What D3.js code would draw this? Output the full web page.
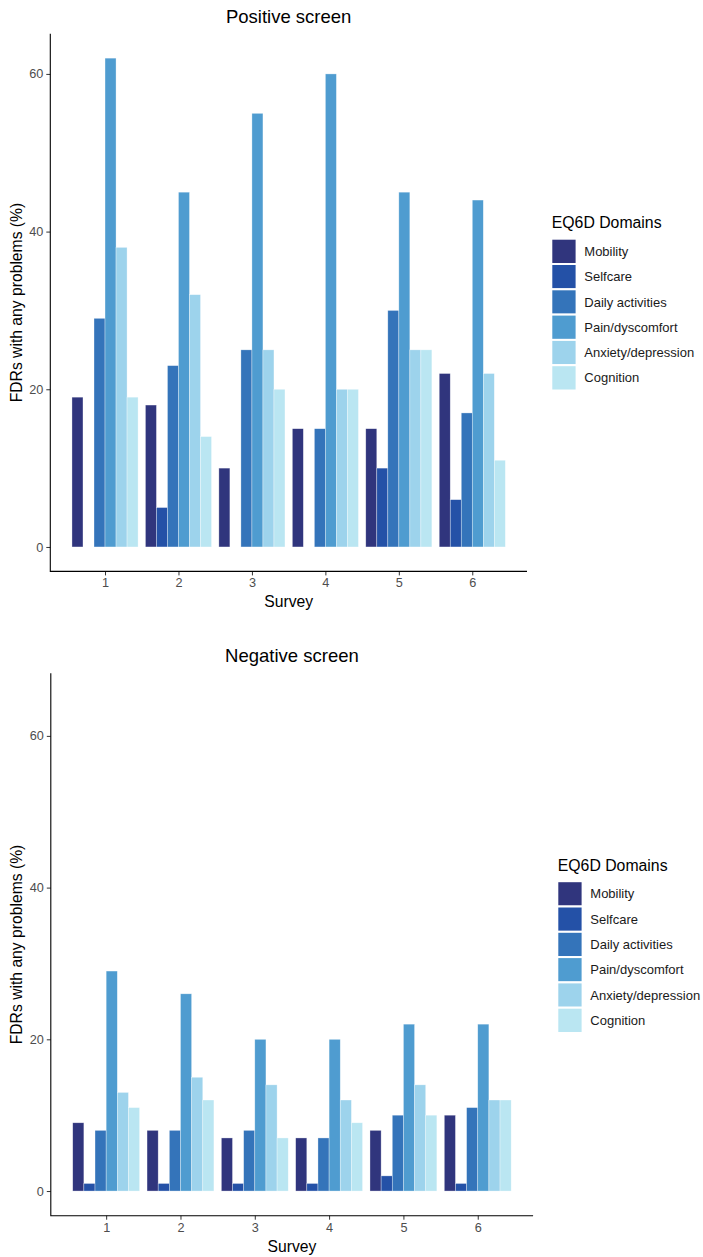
<!DOCTYPE html>
<html>
<head>
<meta charset="utf-8">
<script src="https://cdn.jsdelivr.net/npm/d3@7"></script>
<style>
  html, body { margin: 0; padding: 0; background: #ffffff; }
  svg { display: block; font-family: "Liberation Sans", Arial, Helvetica, sans-serif; }
</style>
</head>
<body>
<svg id="chart" width="703" height="1257"></svg>
<script>
// EQ6D domains and survey waves
const surveys = [1, 2, 3, 4, 5, 6];
const domains = ["Mobility", "Selfcare", "Daily activities", "Pain/dyscomfort", "Anxiety/depression", "Cognition"];
const domainColors = ["#30357D", "#2451A7", "#3474BA", "#4F9CD0", "#9DD3EC", "#BAE6F2"];
const yTicks = [0, 20, 40, 60];

// Positive screen: % of FDRs reporting any problems (null = not reported)
const posMobility   = [19, 18, 10, 15, 15, 22];
const posSelfcare   = [null, 5, null, null, 10, 6];
const posDaily      = [29, 23, 25, 15, 30, 17];
const posPain       = [62, 45, 55, 60, 45, 44];
const posAnxiety    = [38, 32, 25, 20, 25, 22];
const posCognition  = [19, 14, 20, 20, 25, 11];

// Negative screen
const negMobility   = [9, 8, 7, 7, 8, 10];
const negSelfcare   = [1, 1, 1, 1, 2, 1];
const negDaily      = [8, 8, 8, 7, 10, 11];
const negPain       = [29, 26, 20, 20, 22, 22];
const negAnxiety    = [13, 15, 14, 12, 14, 12];
const negCognition  = [11, 12, 7, 9, 10, 12];
const negYLimits    = [0, 65];

const svg = d3.select("#chart");

function drawPanel(opts) {
  const { title, series, yLimits, box, legend } = opts;
  const g = svg.append("g");

  // continuous x: bars span survey ± 0.45, expanded by 5%
  const barSpan = 0.9;
  const lo = d3.min(surveys) - barSpan / 2, hi = d3.max(surveys) + barSpan / 2;
  const xPad = (hi - lo) * 0.05;
  const x = d3.scaleLinear().domain([lo - xPad, hi + xPad]).range([box.left, box.right]);

  const yMax = yLimits ? yLimits[1] : d3.max(series.flat().filter(v => v != null));
  const yMin = yLimits ? yLimits[0] : 0;
  const yPad = (yMax - yMin) * 0.05;
  const y = d3.scaleLinear().domain([yMin - yPad, yMax + yPad]).range([box.bottom, box.top]);

  const barW = barSpan / domains.length;
  const rows = [];
  series.forEach((vals, di) => {
    vals.forEach((v, si) => {
      if (v != null) rows.push({ domain: di, survey: surveys[si], value: v });
    });
  });

  g.append("g").selectAll("rect")
    .data(rows)
    .join("rect")
    .attr("x", d => x(d.survey - barSpan / 2 + d.domain * barW))
    .attr("width", d => x(d.survey - barSpan / 2 + (d.domain + 1) * barW) - x(d.survey - barSpan / 2 + d.domain * barW))
    .attr("y", d => y(d.value))
    .attr("height", d => y(0) - y(d.value))
    .attr("fill", d => domainColors[d.domain])
    .attr("stroke", "#ffffff")
    .attr("stroke-opacity", 0.55)
    .attr("stroke-width", 0.6);

  // y axis
  const yAxis = g.append("g")
    .attr("transform", `translate(${box.left},0)`)
    .call(d3.axisLeft(y).tickValues(yTicks).tickSize(4).tickPadding(3).tickFormat(d3.format("d")));
  yAxis.select(".domain").remove();
  yAxis.selectAll(".tick line").attr("stroke", "#333333").attr("stroke-width", 1);
  yAxis.selectAll(".tick text").attr("fill", "#4D4D4D").attr("font-size", 12.7)
    .attr("font-family", "Liberation Sans, Arial, sans-serif");

  // x axis
  const xAxis = g.append("g")
    .attr("transform", `translate(0,${box.bottom})`)
    .call(d3.axisBottom(x).tickValues(surveys).tickSize(4).tickPadding(3).tickFormat(d3.format("d")));
  xAxis.select(".domain").remove();
  xAxis.selectAll(".tick line").attr("stroke", "#333333").attr("stroke-width", 1);
  xAxis.selectAll(".tick text").attr("fill", "#4D4D4D").attr("font-size", 12.7)
    .attr("font-family", "Liberation Sans, Arial, sans-serif");

  // axis lines
  g.append("path")
    .attr("d", `M${box.left},${box.top}V${box.bottom}H${box.right}`)
    .attr("fill", "none").attr("stroke", "#000000").attr("stroke-width", 1.1);

  // titles
  g.append("text")
    .attr("x", (box.left + box.right) / 2).attr("y", box.titleY)
    .attr("text-anchor", "middle").attr("font-size", 18.5).attr("fill", "#000")
    .text(title);
  g.append("text")
    .attr("x", (box.left + box.right) / 2).attr("y", box.xTitleY)
    .attr("text-anchor", "middle").attr("font-size", 15.7).attr("fill", "#000")
    .text("Survey");
  g.append("text")
    .attr("transform", `translate(${box.yTitleX},${(box.top + box.bottom) / 2}) rotate(-90)`)
    .attr("text-anchor", "middle").attr("font-size", 15.7).attr("fill", "#000")
    .text("FDRs with any problems (%)");

  // legend
  const lg = g.append("g").attr("transform", `translate(${legend.x},${legend.y})`);
  lg.append("text").attr("x", 0.5).attr("y", 0)
    .attr("font-size", 15.8).attr("fill", "#000").text("EQ6D Domains");
  const key = 25.3;
  const items = lg.selectAll("g.key").data(domains).join("g")
    .attr("class", "key")
    .attr("transform", (d, i) => `translate(0,${10.7 + i * key})`);
  items.append("rect")
    .attr("width", key).attr("height", key)
    .attr("fill", (d, i) => domainColors[i])
    .attr("stroke", "#ffffff").attr("stroke-width", 2);
  items.append("text")
    .attr("x", key + 7.7).attr("y", key / 2 + 4.6)
    .attr("font-size", 13).attr("fill", "#1a1a1a")
    .text(d => d);
}

drawPanel({
  title: "Positive screen",
  series: [posMobility, posSelfcare, posDaily, posPain, posAnxiety, posCognition],
  yLimits: null,
  box: { left: 50.3, right: 527, top: 33.7, bottom: 571.4, titleY: 22.5, xTitleY: 607, yTitleX: 21.5 },
  legend: { x: 551.3, y: 228 }
});

drawPanel({
  title: "Negative screen",
  series: [negMobility, negSelfcare, negDaily, negPain, negAnxiety, negCognition],
  yLimits: negYLimits,
  box: { left: 50.8, right: 533.1, top: 673.3, bottom: 1215.7, titleY: 661.5, xTitleY: 1252, yTitleX: 21.5 },
  legend: { x: 557.3, y: 870.5 }
});
</script>
</body>
</html>
